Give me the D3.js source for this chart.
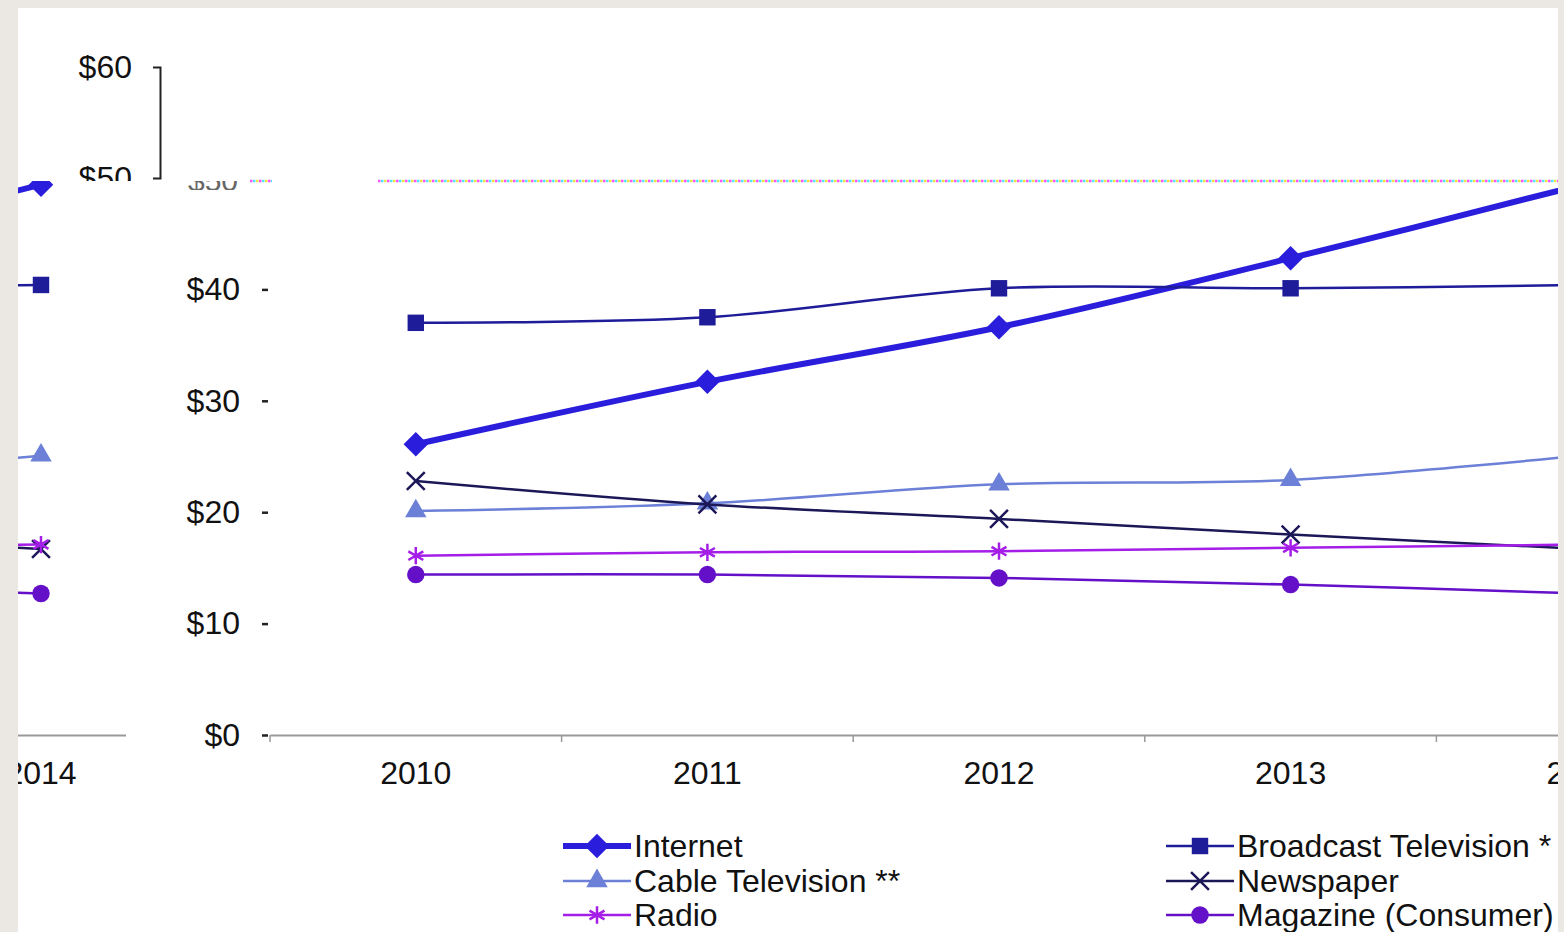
<!DOCTYPE html>
<html>
<head>
<meta charset="utf-8">
<script src="https://cdn.jsdelivr.net/npm/d3@7"></script>
<style>
  body { margin: 0; background: #ebe8e3; }
  svg { display: block; }
  text { font-family: "Liberation Sans", Arial, sans-serif; }
</style>
</head>
<body>
<svg id="chart" width="1564" height="932"></svg>
<script>
/* global d3 */

// ---- data ----
const years = ['2010', '2011', '2012', '2013', '2014']
const yTicks = [0, 10, 20, 30, 40]
const topTicks = [50, 60]

const internet = [26.1, 31.7, 36.6, 42.8, 49.4]
const broadcast = [37.0, 37.5, 40.1, 40.1, 40.4]
const cable = [20.1, 20.8, 22.5, 22.9, 25.1]
const newspaper = [22.8, 20.7, 19.4, 18.0, 16.7]
const radio = [16.1, 16.4, 16.5, 16.8, 17.1]
const magazine = [14.4, 14.4, 14.1, 13.5, 12.7]

const seriesNames = ['Internet', 'Broadcast Television *', 'Cable Television **', 'Newspaper', 'Radio', 'Magazine (Consumer)']
const seriesValues = [internet, broadcast, cable, newspaper, radio, magazine]

// square diamond (rotated square), the d3 one is too tall
const squareDiamond = {
  draw (context, size) {
    const r = Math.sqrt(size / 2)
    context.moveTo(0, -r)
    context.lineTo(r, 0)
    context.lineTo(0, r)
    context.lineTo(-r, 0)
    context.closePath()
  }
}

// ---- styles ----
const styles = [
  { color: '#2a1edc', width: 6, symbol: squareDiamond, size: 300, stroke: false },
  { color: '#1e1c98', width: 2.5, symbol: d3.symbolSquare, size: 270, stroke: false },
  { color: '#6b80d6', width: 2.5, symbol: d3.symbolTriangle, size: 200, stroke: false },
  { color: '#1c1858', width: 2.5, symbol: d3.symbolTimes, size: 210, stroke: true },
  { color: '#a41ee8', width: 2.5, symbol: d3.symbolAsterisk, size: 210, stroke: true },
  { color: '#6410c8', width: 2.5, symbol: d3.symbolCircle, size: 240, stroke: false }
]

const FONT = 32

const svg = d3.select('#chart')

// white page area
svg.append('rect').attr('x', 18).attr('y', 8).attr('width', 1540).attr('height', 924).attr('fill', '#fff')

const defs = svg.append('defs')
defs.append('clipPath').attr('id', 'mainClip')
  .append('rect').attr('x', 130).attr('y', 181).attr('width', 1428).attr('height', 751)
defs.append('clipPath').attr('id', 'leftClip')
  .append('rect').attr('x', 18).attr('y', 181).attr('width', 108).attr('height', 620)
defs.append('clipPath').attr('id', 'topClip')
  .append('rect').attr('x', 18).attr('y', 8).attr('width', 300).attr('height', 173)
defs.append('clipPath').attr('id', 'topClip2')
  .append('rect').attr('x', 1400).attr('y', 160).attr('width', 150).attr('height', 21)
defs.append('clipPath').attr('id', 'bandClip')
  .append('rect').attr('x', 180).attr('y', 181).attr('width', 80).attr('height', 9)

// ---- scales ----
const x = d3.scaleBand().domain(years).range([270, 1728]).padding(0)
const y = d3.scaleLinear().domain([0, 50]).range([735, 178])

function drawPlot (g, xs) {
  // x axis
  g.append('g')
    .attr('transform', 'translate(0,735)')
    .call(d3.axisBottom(xs).tickSize(0).tickPadding(26))
    .call(a => a.select('.domain').attr('stroke', '#999').attr('stroke-width', 2))
    .call(a => a.selectAll('text').attr('font-size', FONT).attr('fill', '#111'))
  g.append('g')
    .selectAll('line')
    .data(years)
    .join('line')
    .attr('x1', d => xs(d)).attr('x2', d => xs(d))
    .attr('y1', 735).attr('y2', 742)
    .attr('stroke', '#999').attr('stroke-width', 1.5)

  const line = d3.line()
    .x((d, i) => xs(years[i]) + xs.bandwidth() / 2)
    .y(d => y(d))
    .curve(d3.curveCatmullRom.alpha(0.5))

  seriesValues.forEach((vals, k) => {
    const st = styles[k]
    g.append('path')
      .datum(vals)
      .attr('d', line)
      .attr('fill', 'none')
      .attr('stroke', st.color)
      .attr('stroke-width', st.width)
    g.append('g')
      .selectAll('path')
      .data(vals)
      .join('path')
      .attr('transform', (d, i) => `translate(${xs(years[i]) + xs.bandwidth() / 2},${y(d)})`)
      .attr('d', d3.symbol(st.symbol, st.size))
      .attr('fill', st.stroke ? 'none' : st.color)
      .attr('stroke', st.color)
      .attr('stroke-width', st.stroke ? 2.5 : 0)
  })
}

// main plot
const main = svg.append('g').attr('clip-path', 'url(#mainClip)')
drawPlot(main, x)

// glitched fragment on the left: same chart, shifted so 2014 sits at x=41
const shift = x('2014') + x.bandwidth() / 2 - 41
const xLeft = x.copy().range([270 - shift, 1728 - shift])
const left = svg.append('g').attr('clip-path', 'url(#leftClip)')
drawPlot(left, xLeft)

// main y axis (no domain line)
svg.append('g')
  .attr('transform', 'translate(270,0)')
  .call(d3.axisLeft(y).tickValues(yTicks).tickSize(8).tickPadding(22).tickFormat(d => '$' + d))
  .call(a => a.select('.domain').remove())
  .call(a => a.selectAll('line').attr('stroke', '#222').attr('stroke-width', 2.5).attr('x1', -8).attr('x2', -2))
  .call(a => a.selectAll('text').attr('font-size', FONT).attr('fill', '#111'))

// top fragment axis ($50 - $60 bracket)
const yTop = d3.scaleLinear().domain([50, 60]).range([178, 67])
svg.append('g')
  .attr('clip-path', 'url(#topClip)')
  .append('g')
  .attr('transform', 'translate(160,0)')
  .call(d3.axisLeft(yTop).tickValues(topTicks).tickSize(0).tickSizeOuter(7).tickPadding(28).tickFormat(d => '$' + d))
  .call(a => a.select('.domain').attr('stroke', '#222').attr('stroke-width', 2))
  .call(a => a.selectAll('text').attr('font-size', FONT).attr('fill', '#111'))

// dotted glitch line at $50
const dotColors = ['#ff50ff', '#50e8ff', '#f0e040']
dotColors.forEach((c, i) => {
  [[250, 272], [378, 1558]].forEach(seg => {
    svg.append('line')
      .attr('x1', seg[0] + i * 3).attr('x2', seg[1])
      .attr('y1', 181).attr('y2', 181)
      .attr('stroke', c).attr('stroke-width', 2.5)
      .attr('stroke-dasharray', '2.5,6.5')
  })
})
// bottom sliver of a misplaced "$50" label
svg.append('text').attr('x', 188).attr('y', 191).attr('font-size', 30).attr('fill', '#666')
  .attr('clip-path', 'url(#bandClip)').text('$50')
svg.append('path')
  .attr('transform', 'translate(1474,183)')
  .attr('d', d3.symbol(d3.symbolTriangle, 110))
  .attr('fill', '#cc2a1a')
  .attr('clip-path', 'url(#topClip2)')

// ---- legend ----
const legendRows = [
  { k: 0, col: 0, row: 0 }, { k: 1, col: 1, row: 0 },
  { k: 2, col: 0, row: 1 }, { k: 3, col: 1, row: 1 },
  { k: 4, col: 0, row: 2 }, { k: 5, col: 1, row: 2 }
]
const colX = [563, 1166]
const rowY = [846, 881, 915]
const legend = svg.append('g')
legendRows.forEach(r => {
  const st = styles[r.k]
  const lx = colX[r.col]
  const ly = rowY[r.row]
  legend.append('line')
    .attr('x1', lx).attr('x2', lx + 68).attr('y1', ly).attr('y2', ly)
    .attr('stroke', st.color).attr('stroke-width', st.width)
  legend.append('path')
    .attr('transform', `translate(${lx + 34},${ly})`)
    .attr('d', d3.symbol(st.symbol, st.size))
    .attr('fill', st.stroke ? 'none' : st.color)
    .attr('stroke', st.color)
    .attr('stroke-width', st.stroke ? 2.5 : 0)
  legend.append('text')
    .attr('x', lx + 71).attr('y', ly + 11)
    .attr('font-size', FONT).attr('fill', '#111')
    .text(seriesNames[r.k])
})

// page edge on the right and left cuts the chart
svg.append('rect').attr('x', 1558).attr('y', 0).attr('width', 6).attr('height', 932).attr('fill', '#ebe8e3')
svg.append('rect').attr('x', 0).attr('y', 0).attr('width', 18).attr('height', 932).attr('fill', '#ebe8e3')
</script>
</body>
</html>
